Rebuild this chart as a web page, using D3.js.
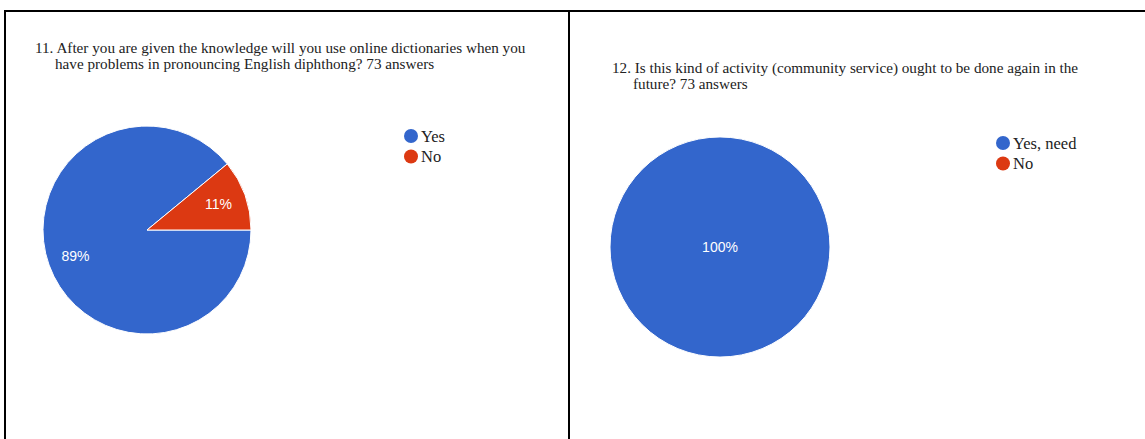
<!DOCTYPE html>
<html>
<head>
<meta charset="utf-8">
<script src="https://d3js.org/d3.v7.min.js"></script>
<style>
  body { margin: 0; background: white; }
  .title { font-family: "Liberation Serif", "Times New Roman", serif; font-size: 15.2px; fill: #222; }
  .legend { font-family: "Liberation Serif", "Times New Roman", serif; font-size: 16.5px; fill: #222; }
  .pct { font-family: "Liberation Sans", Arial, sans-serif; font-size: 14px; fill: white; }
</style>
</head>
<body>
<svg width="1145" height="439" id="MainSVG"></svg>
<script>
// chart 11
var q11Lines = ["11. After you are given  the knowledge will you use online dictionaries when you",
                "have problems in pronouncing English diphthong? 73 answers"];
var q11Cats = ["Yes", "No"];
var q11Vals = [65, 8];

// chart 12
var q12Lines = ["12. Is this kind of activity (community service) ought to be done again in the",
                "future? 73 answers"];
var q12Cats = ["Yes, need", "No"];
var q12Vals = [73, 0];

var colors = ["#3366cc", "#dc3912"];

var svg = d3.select("#MainSVG");

// frame lines
svg.append("path")
  .attr("d", "M5 439 L5 11 L1145 11 M569 11 L569 439")
  .attr("stroke", "black")
  .attr("stroke-width", 2)
  .attr("fill", "none");

function drawPanel(cfg) {
  var g = svg.append("g");

  // title, 2 lines
  g.append("text").attr("class", "title")
    .attr("x", cfg.tx).attr("y", cfg.ty)
    .text(cfg.lines[0]);
  g.append("text").attr("class", "title")
    .attr("x", cfg.tx + cfg.indent).attr("y", cfg.ty + 15.5)
    .text(cfg.lines[1]);

  var pie = d3.pie().sort(null)
    .startAngle(Math.PI / 2).endAngle(Math.PI / 2 + 2 * Math.PI);
  var arcs = pie(cfg.vals);
  var arc = d3.arc().innerRadius(0).outerRadius(cfg.r);
  var labelArc = d3.arc().innerRadius(cfg.r * 0.73).outerRadius(cfg.r * 0.73);
  var total = d3.sum(cfg.vals);

  var pg = g.append("g").attr("transform", "translate(" + cfg.cx + "," + cfg.cy + ")");
  pg.selectAll("path.slice")
    .data(arcs.filter(function(d) { return d.value > 0; }))
    .enter().append("path")
    .attr("class", "slice")
    .attr("d", arc)
    .attr("fill", function(d) { return colors[d.index]; })
    .attr("stroke", "white")
    .attr("stroke-width", 1);

  pg.selectAll("text.pct")
    .data(arcs.filter(function(d) { return d.value > 0; }))
    .enter().append("text")
    .attr("class", "pct")
    .attr("text-anchor", "middle")
    .attr("dy", "0.35em")
    .attr("transform", function(d) {
      if (d.value === total) return "translate(0,0)";
      return "translate(" + labelArc.centroid(d) + ")";
    })
    .text(function(d) { return Math.round(d.value / total * 100) + "%"; });

  // legend
  var lg = g.append("g");
  var rows = lg.selectAll("g.row")
    .data(cfg.cats)
    .enter().append("g")
    .attr("class", "row")
    .attr("transform", function(d, i) { return "translate(" + cfg.lx + "," + (cfg.ly + i * 20.5) + ")"; });
  rows.append("circle")
    .attr("r", 7)
    .attr("fill", function(d, i) { return colors[i]; });
  rows.append("text")
    .attr("class", "legend")
    .attr("x", 10)
    .attr("dy", "0.35em")
    .text(function(d) { return d; });
}

drawPanel({ lines: q11Lines, vals: q11Vals, cats: q11Cats,
  tx: 35, ty: 53, indent: 20, cx: 147, cy: 230, r: 104, lx: 411, ly: 136 });
drawPanel({ lines: q12Lines, vals: q12Vals, cats: q12Cats,
  tx: 612, ty: 73, indent: 21, cx: 720, cy: 247, r: 110, lx: 1003, ly: 143 });
</script>
</body>
</html>
